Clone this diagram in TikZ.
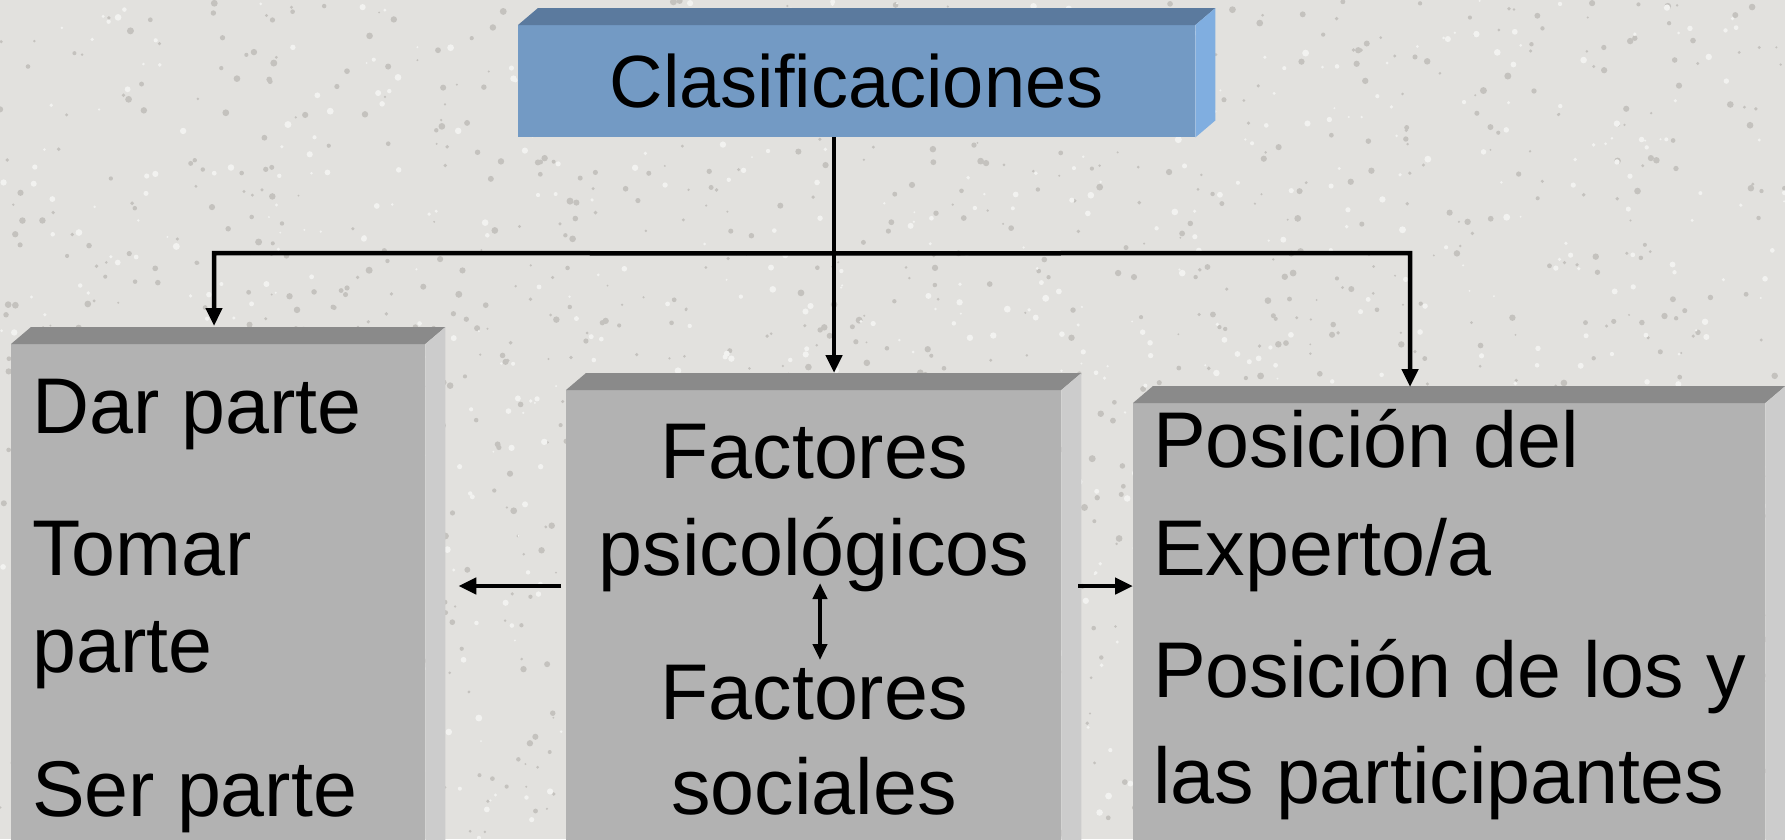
\documentclass[tikz,border=0pt]{standalone}
\usepackage{fontspec}
\setmainfont{Liberation Sans}
\usetikzlibrary{arrows.meta,calc}
\definecolor{bg}{RGB}{226,225,222}
\definecolor{speckA}{RGB}{196,194,190}
\definecolor{speckB}{RGB}{242,242,240}
\definecolor{bluefront}{RGB}{115,154,196}
\definecolor{bluetop}{RGB}{91,122,158}
\definecolor{blueside}{RGB}{128,174,224}
\definecolor{grayfront}{RGB}{178,178,178}
\definecolor{graytop}{RGB}{138,138,138}
\definecolor{grayside}{RGB}{204,204,204}
\newcommand\boxfaces[3]{%
  \fill[#2] (#1.north west) -- ++(20,-17) -- ($(#1.north east)+(20,-17)$) -- (#1.north east) -- cycle;
  \fill[#3] (#1.north east) -- ++(20,-17) -- ($(#1.south east)+(20,-17)$) -- (#1.south east) -- cycle;}
\begin{document}
\begin{tikzpicture}[x=1pt,y=-1pt,
  box/.style={draw=none,rectangle,inner sep=0pt,anchor=north west},
  conn/.style={line width=4.5pt,-{Triangle[length=18pt,width=16pt]}},
  dbl/.style={line width=4pt,{Triangle[length=16pt,width=14pt]}-{Triangle[length=16pt,width=14pt]}},
  txt/.style={inner sep=0pt,font=\fontsize{79}{90}\selectfont}]
\fill[bg] (0,0) rectangle (1785,839);
\useasboundingbox (0,0) rectangle (1785,839);
% granite-like speckle texture of the background
\pgfmathsetseed{7}
\foreach \i in {1,...,1400}{
  \pgfmathsetmacro{\px}{rnd*1785}
  \pgfmathsetmacro{\py}{rnd*839}
  \pgfmathsetmacro{\pr}{1+rnd*2.5}
  \fill[speckA] (\px,\py) circle[radius=\pr];
}
\foreach \i in {1,...,900}{
  \pgfmathsetmacro{\px}{rnd*1785}
  \pgfmathsetmacro{\py}{rnd*839}
  \pgfmathsetmacro{\pr}{1+rnd*2.5}
  \fill[speckB] (\px,\py) circle[radius=\pr];
}

% boxes
\node[box,fill=bluefront,minimum width=677pt,minimum height=112pt,
      font=\fontsize{74}{80}\selectfont] (cl) at (518,25) {Clasificaciones};
\boxfaces{cl}{bluetop}{blueside}
\node[box,fill=grayfront,minimum width=414pt,minimum height=520pt] (left) at (11,344) {};
\boxfaces{left}{graytop}{grayside}
\node[box,fill=grayfront,minimum width=495pt,minimum height=470pt] (mid) at (566,390) {};
\boxfaces{mid}{graytop}{grayside}
\node[box,fill=grayfront,minimum width=632pt,minimum height=460pt] (right) at (1133,403) {};
\boxfaces{right}{graytop}{grayside}

% texts
\node[txt,anchor=base west] (l1) at (32,433) {Dar parte};
\node[txt,anchor=base west] (l2) at (32,575) {Tomar};
\node[txt,anchor=base west] (l3) at (32,672) {parte};
\node[txt,anchor=base west] (l4) at (32,816) {Ser parte};

\node[txt,anchor=base] (m1) at (814,478) {Factores};
\node[txt,anchor=base] (m2) at (814,575) {psicológicos};
\node[txt,anchor=base] (m3) at (814,719) {Factores};
\node[txt,anchor=base] (m4) at (814,814) {sociales};

\node[txt,anchor=base west] (r1) at (1153,467) {Posición del};
\node[txt,anchor=base west] (r2) at (1153,575) {Experto/a};
\node[txt,anchor=base west] (r3) at (1153,697) {Posición de los y};
\node[txt,anchor=base west] (r4) at (1153,803) {las participantes};

% connectors
\coordinate (hub) at ($(cl.south west)+(316,116)$);
\draw[conn] ($(cl.south west)+(316,0)$) -- ($(mid.north west)+(268,-17)$);
\draw[conn] (hub) -- ($(left.north west)+(203,-91)$) -- ($(left.north west)+(203,-18)$);
\draw[conn] (hub) -- ($(right.north west)+(277,-150)$) -- ($(right.north west)+(277,-16)$);

\draw[conn] ($(mid.north west)+(-5,196)$) -- ($(left.north east)+(33,242)$);
\draw[conn] ($(mid.north east)+(17,196)$) -- ($(right.north west)+(0,183)$);
\draw[dbl] ($(mid.north west)+(254,193)$) -- ($(mid.north west)+(254,270)$);
\end{tikzpicture}
\end{document}
